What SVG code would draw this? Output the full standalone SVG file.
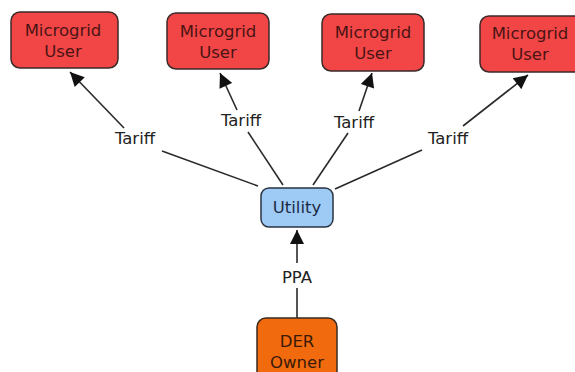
<svg xmlns="http://www.w3.org/2000/svg" width="575" height="372" viewBox="0 0 575 372">
<defs>
<style>
.mu{fill:#f24646;stroke:#3a2a2a;stroke-width:1.5}
.ut{fill:#9ecbf6;stroke:#2a3340;stroke-width:1.5}
.der{fill:#f26a0e;stroke:#3a2a20;stroke-width:1.5}
.t{font-family:"DejaVu Sans",Verdana,sans-serif;font-size:16.5px;text-anchor:middle}
.tm{fill:#4a1414}
.tu{fill:#1a2a44}
.td{fill:#3a1a08}
.lb{fill:#222}
.ln{stroke:#2a2a2a;stroke-width:1.6;fill:none}
</style>
<marker id="ahb" viewBox="0 0 10 10" refX="10" refY="5" markerWidth="15" markerHeight="14" markerUnits="userSpaceOnUse" orient="auto">
<path d="M0,0 L10,5 L0,10 z" fill="#111"/>
</marker>
</defs>
<rect width="575" height="372" fill="#fff"/>
<g id="connectors">
<line class="ln" x1="258" y1="186" x2="162" y2="151"/>
<line class="ln" x1="124" y1="128" x2="70" y2="72" marker-end="url(#ahb)"/>
<line class="ln" x1="283" y1="185" x2="248" y2="132"/>
<line class="ln" x1="237" y1="110" x2="220" y2="73" marker-end="url(#ahb)"/>
<line class="ln" x1="313" y1="185" x2="348" y2="133"/>
<line class="ln" x1="359" y1="111" x2="372" y2="73" marker-end="url(#ahb)"/>
<line class="ln" x1="335" y1="189" x2="422" y2="150"/>
<line class="ln" x1="463" y1="126" x2="528" y2="75" marker-end="url(#ahb)"/>
<line class="ln" x1="297" y1="318" x2="297" y2="288"/>
<line class="ln" x1="297" y1="263" x2="297" y2="230" marker-end="url(#ahb)"/>
<text class="t lb" x="135" y="144">Tariff</text>
<text class="t lb" x="241" y="126">Tariff</text>
<text class="t lb" x="354" y="128">Tariff</text>
<text class="t lb" x="448" y="144">Tariff</text>
<text class="t lb" x="297" y="283">PPA</text>
</g>
<g id="mu1">
<rect class="mu" x="11" y="12" width="107" height="56" rx="9"/>
<text class="t tm" x="63" y="36">Microgrid</text>
<text class="t tm" x="63" y="57">User</text>
</g>
<g id="mu2">
<rect class="mu" x="167" y="13" width="102" height="56" rx="9"/>
<text class="t tm" x="218" y="37">Microgrid</text>
<text class="t tm" x="218" y="58">User</text>
</g>
<g id="mu3">
<rect class="mu" x="322" y="14" width="102" height="57" rx="9"/>
<text class="t tm" x="373" y="38">Microgrid</text>
<text class="t tm" x="373" y="59">User</text>
</g>
<g id="mu4">
<rect class="mu" x="480" y="16" width="110" height="56" rx="9"/>
<text class="t tm" x="530" y="39">Microgrid</text>
<text class="t tm" x="530" y="60">User</text>
</g>
<g id="utility">
<rect class="ut" x="261" y="188" width="72" height="39" rx="8"/>
<text class="t tu" x="297" y="213">Utility</text>
</g>
<g id="der">
<rect class="der" x="257" y="318" width="80" height="64" rx="9"/>
<text class="t td" x="297" y="347">DER</text>
<text class="t td" x="297" y="368">Owner</text>
</g>
</svg>
